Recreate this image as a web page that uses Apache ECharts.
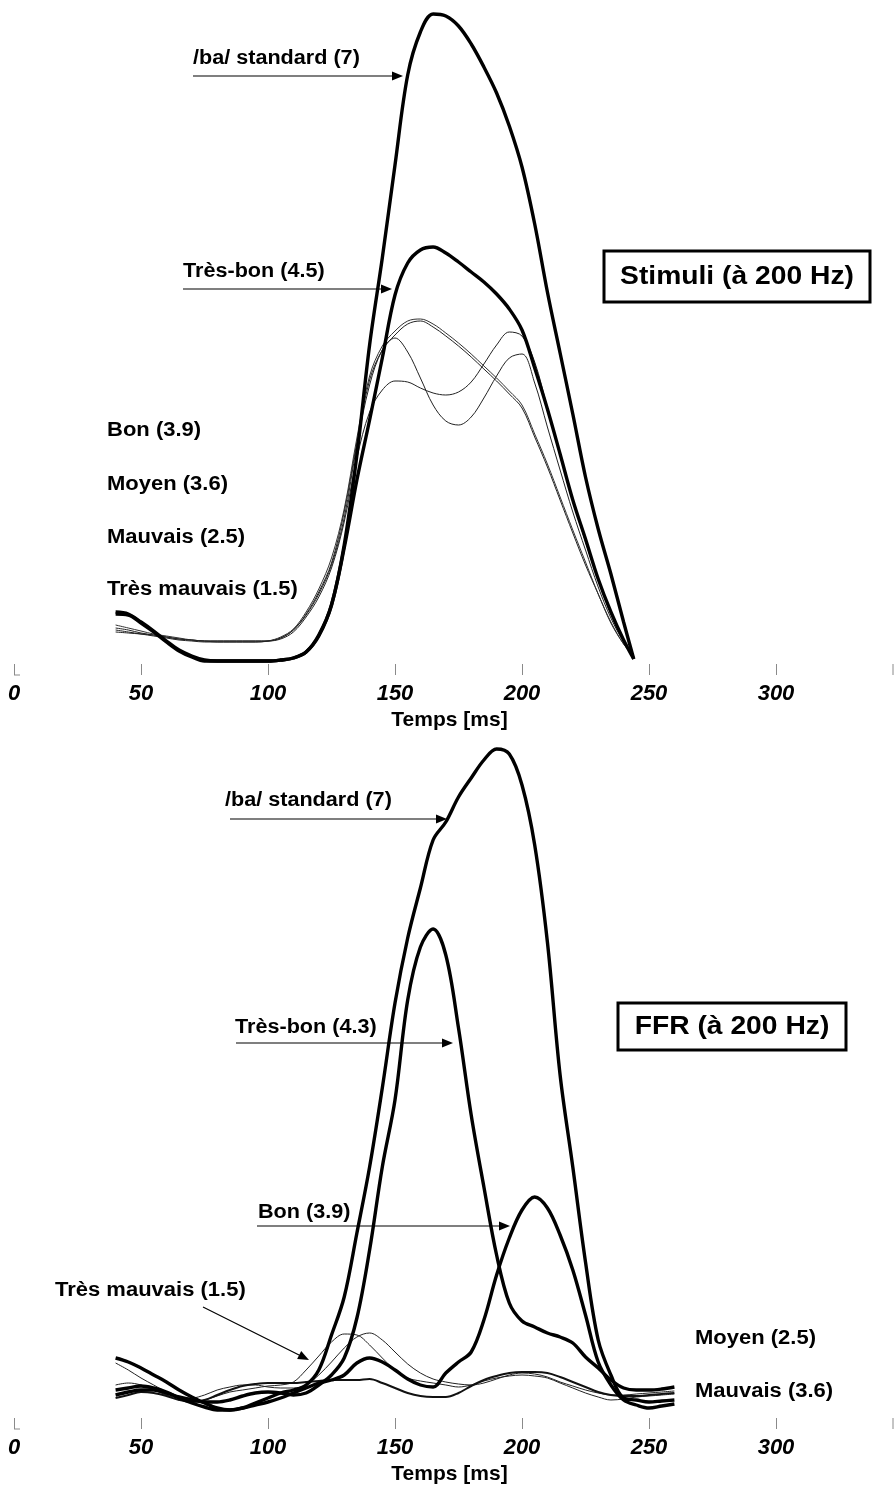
<!DOCTYPE html>
<html><head><meta charset="utf-8">
<script src="https://cdn.jsdelivr.net/npm/echarts/dist/echarts.min.js"></script>
<style>html,body{margin:0;padding:0;background:#fff}#c{width:895px;height:1492px}</style>
</head><body><div id="c"></div>
<script>
// ---- time axis (ms) ----
const TICK_LABELS = [0, 50, 100, 150, 200, 250, 300];
const TOP_MS = [40,45,50,55,60,65,70,75,80,85,90,95,100,105,110,115,120,125,130,135,140,145,150,155,160,165,170,175,180,185,190,195,200,205,210,215,220,225,230,235,240,244];
const BOT_MS = [40,45,50,55,60,65,70,75,80,85,90,95,100,105,110,115,120,125,130,135,140,145,150,155,160,165,170,175,180,185,190,195,200,205,210,215,220,225,230,235,240,245,250,255,260];

// ---- Stimuli (à 200 Hz): amplitude, arbitrary units ----
const STIM_STANDARD   = [52,50,42,33,23,14,8,4,3,3,3,3,3,4,6,12,29,59,119,209,319,406,499,589,632,650,648,638,620,597,571,538,497,440,372,311,250,187,135,90,42,5];
const STIM_TRESBON    = [50,49,41,32,22,13,7,3,3,3,3,3,3,4,6,12,28,59,116,184,244,306,369,401,414,417,411,402,392,382,370,355,334,296,255,210,164,125,85,52,24,5];
const STIM_BON        = [36,34,31,29,27,25,24,23,23,23,23,23,23,26,34,50,72,101,152,222,284,314,329,340,343,337,328,318,307,295,283,270,256,227,197,164,131,99,70,41,20,8];
const STIM_MOYEN      = [39,36,33,30,28,26,24,23,22,22,22,22,23,27,35,52,75,106,155,226,288,318,333,343,345,340,331,321,310,298,286,273,259,230,200,167,134,102,70,42,20,8];
const STIM_MAUVAIS    = [34,32,30,28,26,24,23,22,22,22,22,22,23,26,34,49,70,99,146,219,279,314,326,312,286,259,243,239,247,266,288,306,310,281,237,194,152,114,77,46,22,8];
const STIM_TRESMAUV   = [32,31,30,29,27,25,24,23,23,23,23,23,23,25,32,47,67,96,142,206,252,274,283,282,276,271,269,272,282,300,319,332,328,302,256,209,164,122,84,50,23,8];

// ---- FFR (à 200 Hz): amplitude, arbitrary units ----
const FFR_STANDARD = [60,56,50,43,36,28,21,15,10,8,10,15,20,25,28,33,48,83,121,185,251,330,415,480,530,578,596,621,640,658,669,664,633,573,476,343,251,156,78,43,20,18,16,17,18];
const FFR_TRESBON  = [23,26,28,28,25,21,18,16,16,18,22,25,26,25,23,25,33,43,60,100,168,251,318,418,471,489,463,390,303,231,163,115,97,91,85,81,75,61,50,38,30,28,28,29,31];
const FFR_BON      = [28,30,32,30,26,20,15,11,8,8,10,13,16,20,25,30,35,38,43,55,60,56,48,39,33,31,45,56,66,98,143,180,208,221,210,183,148,103,56,33,18,13,10,12,14];
const FFR_TRESMAUV = [55,48,40,33,26,20,16,18,22,26,28,30,32,33,36,48,62,76,84,83,73,60,48,40,37,35,33,31,33,37,40,42,43,42,40,35,30,25,21,18,19,21,22,23,24];
const FFR_MOYEN    = [33,35,33,28,23,20,20,23,28,31,33,33,31,30,30,33,43,56,70,81,85,78,66,54,45,39,36,34,33,35,39,43,45,44,41,36,32,28,25,23,23,24,25,26,27];
const FFR_MAUVAIS  = [20,23,26,25,22,18,16,18,23,28,32,34,35,35,35,36,37,38,38,38,39,35,30,25,22,21,21,25,32,38,42,45,46,46,45,41,36,31,26,23,22,22,23,24,25];

// ---- labels ----
const TOP_TITLE = 'Stimuli (à 200 Hz)';
const BOT_TITLE = 'FFR (à 200 Hz)';
const AXIS_NAME = 'Temps [ms]';

const FONT = "'Liberation Sans', Arial, sans-serif";
const chart = echarts.init(document.getElementById('c'), null, {renderer: 'canvas'});

function pairs(ms, v) { return ms.map((m, i) => [m, v[i]]); }
function ser(name, ms, v, idx, w, color, z) {
  return {
    type: 'line', name, xAxisIndex: idx, yAxisIndex: idx, data: pairs(ms, v),
    showSymbol: false, smooth: 0.35, clip: false, silent: true, z: z,
    lineStyle: {width: w, color: color}
  };
}
function xAx(gi) {
  return {
    type: 'value', gridIndex: gi, min: 0, max: 350, interval: 50, position: 'bottom',
    axisLine: {show: false}, splitLine: {show: false},
    axisTick: {show: true, length: 11, lineStyle: {color: '#8a8a8a', width: 1}},
    axisLabel: {
      show: true, margin: 19, color: '#000', fontFamily: "'Liberation Sans Narrow', " + FONT,
      fontWeight: 'bold', fontStyle: 'italic', fontSize: 22,
      formatter: v => TICK_LABELS.indexOf(v) >= 0 ? String(v) : ''
    },
    name: AXIS_NAME, nameLocation: 'middle', nameGap: 46,
    nameTextStyle: {color: '#000', fontFamily: FONT, fontWeight: 'bold', fontSize: 21, padding: [0, 18, 0, 0]}
  };
}
function txt(s, x, y, size, sx) {
  return {type: 'text', x: x, y: y, scaleX: sx, z: 100,
    style: {text: s, x: 0, y: 0, fill: '#000', font: 'bold ' + size + 'px ' + FONT,
      align: 'left', verticalAlign: 'middle', textAlign: 'left', textVerticalAlign: 'middle'}};
}
function ctxt(s, x, y, size, sx) {
  return {type: 'text', x: x, y: y, scaleX: sx, z: 101,
    style: {text: s, x: 0, y: 0, fill: '#000', font: 'bold ' + size + 'px ' + FONT,
      align: 'center', verticalAlign: 'middle', textAlign: 'center', textVerticalAlign: 'middle'}};
}
function arrow(x1, y1, x2, y2) {
  const a = Math.atan2(y2 - y1, x2 - x1), L = 11, W = 4.5;
  const c = Math.cos(a), s = Math.sin(a);
  const bx = x2 - L * c, by = y2 - L * s;
  return [
    {type: 'line', z: 100, shape: {x1: x1, y1: y1, x2: bx + 1 * c, y2: by + 1 * s}, style: {stroke: '#000', lineWidth: 1.2}},
    {type: 'polygon', z: 100, shape: {points: [[x2, y2], [bx - W * s, by + W * c], [bx + W * s, by - W * c]]}, style: {fill: '#000'}}
  ];
}
function box(x, y, w, h) {
  return {type: 'rect', z: 99, shape: {x: x, y: y, width: w, height: h}, style: {fill: '#fff', stroke: '#000', lineWidth: 3}};
}

const graphics = [].concat(
  [txt('/ba/ standard (7)', 193, 58, 20, 1.08)], arrow(193, 76, 403, 76),
  [txt('Très-bon (4.5)', 183, 271, 20, 1.08)], arrow(183, 289, 392, 289),
  [txt('Bon (3.9)', 107, 430, 20, 1.1), txt('Moyen (3.6)', 107, 484, 20, 1.1),
   txt('Mauvais (2.5)', 107, 537, 20, 1.1), txt('Très mauvais (1.5)', 107, 589, 20, 1.1)],
  [box(604, 251, 266, 51), ctxt(TOP_TITLE, 737, 277, 25, 1.13)],
  [txt('/ba/ standard (7)', 225, 800, 20, 1.08)], arrow(230, 819, 447, 819),
  [txt('Très-bon (4.3)', 235, 1027, 20, 1.08)], arrow(236, 1043, 453, 1043),
  [txt('Bon (3.9)', 258, 1212, 20, 1.08)], arrow(257, 1226, 510, 1226),
  [txt('Très mauvais (1.5)', 55, 1290, 20, 1.1)], arrow(203, 1307, 309, 1360),
  [txt('Moyen (2.5)', 695, 1338, 20, 1.1), txt('Mauvais (3.6)', 695, 1391, 20, 1.1)],
  [box(618, 1003, 228, 47), ctxt(BOT_TITLE, 732, 1027, 25, 1.13)],
  [{type: 'polyline', z: 98, shape: {points: [[14, 675], [20, 675]]}, style: {stroke: '#8a8a8a', lineWidth: 1}},
   {type: 'polyline', z: 98, shape: {points: [[14, 1429], [20, 1429]]}, style: {stroke: '#8a8a8a', lineWidth: 1}},
   {type: 'polyline', z: 98, shape: {points: [[893, 664], [893, 675]]}, style: {stroke: '#8a8a8a', lineWidth: 1}},
   {type: 'polyline', z: 98, shape: {points: [[893, 1418], [893, 1429]]}, style: {stroke: '#8a8a8a', lineWidth: 1}}]
);

chart.setOption({
  animation: false,
  backgroundColor: '#fff',
  grid: [
    {left: 14, top: 0, width: 889, height: 664, containLabel: false, outerBoundsMode: 'none'},
    {left: 14, top: 718, width: 889, height: 700, containLabel: false, outerBoundsMode: 'none'}
  ],
  xAxis: [xAx(0), xAx(1)],
  yAxis: [
    {type: 'value', gridIndex: 0, min: 0, max: 664, show: false},
    {type: 'value', gridIndex: 1, min: 0, max: 700, show: false}
  ],
  series: [
    ser('Bon (3.9)', TOP_MS, STIM_BON, 0, 1, '#222', 2),
    ser('Moyen (3.6)', TOP_MS, STIM_MOYEN, 0, 1, '#333', 2),
    ser('Mauvais (2.5)', TOP_MS, STIM_MAUVAIS, 0, 1, '#222', 2),
    ser('Très mauvais (1.5)', TOP_MS, STIM_TRESMAUV, 0, 1, '#222', 2),
    ser('Très-bon (4.5)', TOP_MS, STIM_TRESBON, 0, 3.4, '#000', 3),
    ser('/ba/ standard (7)', TOP_MS, STIM_STANDARD, 0, 3.4, '#000', 3),
    ser('Très mauvais (1.5)', BOT_MS, FFR_TRESMAUV, 1, 1, '#222', 2),
    ser('Moyen (2.5)', BOT_MS, FFR_MOYEN, 1, 1, '#222', 2),
    ser('Mauvais (3.6)', BOT_MS, FFR_MAUVAIS, 1, 2, '#111', 2),
    ser('Bon (3.9)', BOT_MS, FFR_BON, 1, 3.4, '#000', 3),
    ser('Très-bon (4.3)', BOT_MS, FFR_TRESBON, 1, 3.4, '#000', 3),
    ser('/ba/ standard (7)', BOT_MS, FFR_STANDARD, 1, 3.4, '#000', 3)
  ],
  graphic: graphics
});
</script></body></html>
